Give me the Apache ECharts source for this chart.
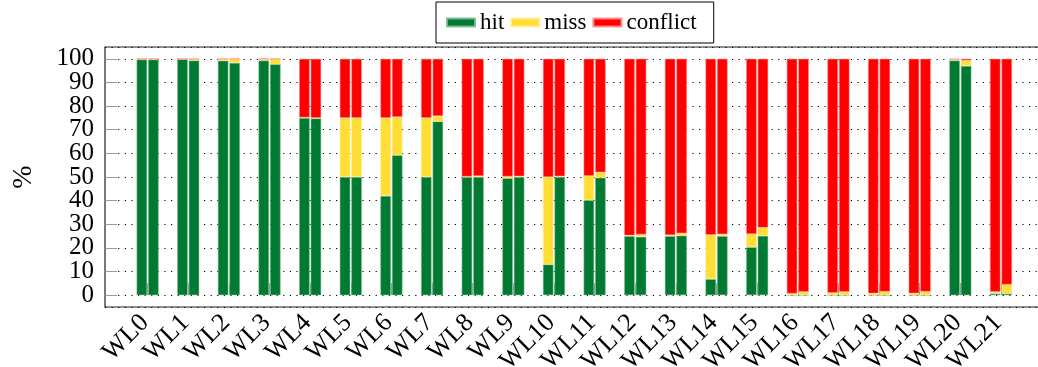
<!DOCTYPE html>
<html>
<head>
<meta charset="utf-8">
<script src="https://cdn.jsdelivr.net/npm/echarts@6/dist/echarts.min.js"></script>
<style>
  html, body { margin: 0; padding: 0; background: #fff; }
  #chart { width: 1038px; height: 367px; }
</style>
</head>
<body>
<div id="chart"></div>
<script>
// Workloads, each with two configurations (left bar "A", right bar "B")
const categories = ['WL0','WL1','WL2','WL3','WL4','WL5','WL6','WL7','WL8','WL9','WL10',
                    'WL11','WL12','WL13','WL14','WL15','WL16','WL17','WL18','WL19','WL20','WL21'];

// Percentages per workload, configuration A
const hitA      = [99.7, 99.8, 99.2, 99.3, 75.0, 50.0, 42.0, 50.0, 50.0, 49.5, 13.0, 40.2, 25.0, 25.0, 6.8, 20.3, 0, 0, 0, 0, 99.3, 0.7];
const missA     = [0.3, 0.2, 0.8, 0.7, 0.2, 25.0, 33.0, 25.0, 0.2, 0.7, 37.0, 10.3, 0.3, 0.4, 18.7, 5.6, 0.7, 1.0, 0.8, 0.8, 0.5, 0.7];
const conflictA = [0, 0, 0, 0, 24.8, 25.0, 25.0, 25.0, 49.8, 49.8, 50.0, 49.5, 74.7, 74.6, 74.5, 74.1, 99.3, 99.0, 99.2, 99.2, 0.2, 98.6];

// Percentages per workload, configuration B
const hitB      = [99.7, 99.3, 98.3, 97.7, 74.8, 50.0, 59.2, 73.5, 50.0, 50.0, 50.0, 49.7, 24.7, 25.2, 25.0, 25.1, 0, 0, 0, 0, 97.0, 0.7];
const missB     = [0.3, 0.7, 1.7, 2.3, 0.2, 25.0, 16.2, 2.3, 0.4, 0.3, 0.3, 2.3, 1.0, 1.0, 0.8, 3.5, 1.4, 1.4, 1.5, 1.5, 2.3, 3.8];
const conflictB = [0, 0, 0, 0, 25.0, 25.0, 24.6, 24.2, 49.6, 49.7, 49.7, 48.0, 74.3, 73.8, 74.2, 71.4, 98.6, 98.6, 98.5, 98.5, 0.7, 95.5];

const COLORS = { hit: '#007A33', miss: '#FFDE36', conflict: '#FF0000' };
const EDGES  = { hit: 'rgba(120,190,140,0.9)', miss: 'rgba(255,236,150,0.9)', conflict: 'rgba(255,140,140,0.9)' };

const SERIF = '"Liberation Serif", "DejaVu Serif", serif';

function bar(name, stack, data) {
  return {
    name: name,
    type: 'bar',
    stack: stack,
    xAxisIndex: 1,
    yAxisIndex: 1,
    data: data,
    barWidth: 10.5,
    barGap: '10%',
    itemStyle: { color: COLORS[name], borderColor: EDGES[name], borderWidth: 0.6 },
    emphasis: { disabled: true },
    animation: false
  };
}

const chart = echarts.init(document.getElementById('chart'), null, { renderer: 'canvas' });

chart.setOption({
  animation: false,
  legend: {
    data: ['hit', 'miss', 'conflict'],
    left: 436,
    top: 2,
    icon: 'rect',
    itemWidth: 28,
    itemHeight: 8,
    itemGap: 6,
    padding: [9, 17, 9, 10],
    borderColor: '#000',
    borderWidth: 1,
    textStyle: { fontFamily: SERIF, fontSize: 23, color: '#000', lineHeight: 23 }
  },
  grid: [
    // frame grid: box, y axis and dotted grid lines
    { left: 105, top: 47, right: -6, bottom: 60, outerBoundsMode: 'none', containLabel: false,
      show: true, borderColor: '#222', borderWidth: 1.2, backgroundColor: 'transparent' },
    // bar grid: category bands
    { left: 127.3, top: 47, right: 16.7, bottom: 60, outerBoundsMode: 'none', containLabel: false }
  ],
  xAxis: [
    { gridIndex: 0, type: 'value', min: 0, max: 1, show: false },
    {
      gridIndex: 1,
      type: 'category',
      data: categories,
      axisLine: { show: false },
      axisTick: { show: true, alignWithLabel: true, inside: true, length: 12, lineStyle: { color: '#999', width: 1 } },
      axisLabel: {
        interval: 0,
        rotate: 45,
        margin: 9,
        padding: [0, 4, 7, 0],
        fontFamily: SERIF,
        fontSize: 26,
        color: '#000'
      },
      splitLine: { show: false }
    }
  ],
  yAxis: [
    {
      gridIndex: 0,
      type: 'value',
      min: -5,
      max: 105,
      minInterval: 10,
      maxInterval: 10,
      splitNumber: 11,
      name: '%',
      nameLocation: 'middle',
      nameRotate: 90,
      nameGap: 67,
      nameTextStyle: { fontFamily: SERIF, fontSize: 28, color: '#000' },
      axisLine: { show: false },
      axisTick: { show: true, inside: true, length: 12, lineStyle: { color: '#999', width: 1 } },
      axisLabel: {
        showMinLabel: false,
        showMaxLabel: false,
        margin: 11,
        fontFamily: SERIF,
        fontSize: 25,
        color: '#000',
        formatter: v => (Math.round(v) % 10 === 0 ? String(Math.abs(Math.round(v))) : '')
      },
      splitLine: { show: true, lineStyle: { color: '#000', width: 1.2, type: [1.2, 5.4] } }
    },
    { gridIndex: 1, type: 'value', min: -5, max: 105, show: false }
  ],
  series: [
    bar('hit', 'A', hitA),
    bar('miss', 'A', missA),
    bar('conflict', 'A', conflictA),
    bar('hit', 'B', hitB),
    bar('miss', 'B', missB),
    bar('conflict', 'B', conflictB)
  ]
});
</script>
</body>
</html>
